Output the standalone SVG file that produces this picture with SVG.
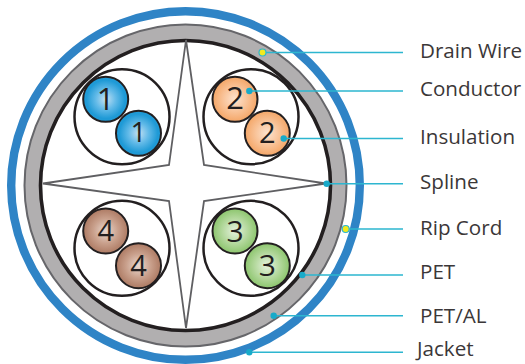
<svg xmlns="http://www.w3.org/2000/svg" width="525" height="364" viewBox="0 0 525 364">
<defs>
<radialGradient id="gb"><stop offset="0" stop-color="#c3e0f2"/><stop offset="0.45" stop-color="#62bae8"/><stop offset="0.85" stop-color="#1f9ad6"/><stop offset="1" stop-color="#1f9ad6"/></radialGradient>
<radialGradient id="go"><stop offset="0" stop-color="#fde3cf"/><stop offset="0.5" stop-color="#f9c59c"/><stop offset="1" stop-color="#f4a667"/></radialGradient>
<radialGradient id="gg"><stop offset="0" stop-color="#e6f2df"/><stop offset="0.55" stop-color="#b5d99f"/><stop offset="1" stop-color="#8cc56d"/></radialGradient>
<radialGradient id="gr"><stop offset="0" stop-color="#ead9d0"/><stop offset="0.55" stop-color="#c9a08c"/><stop offset="1" stop-color="#ad7a63"/></radialGradient>
</defs>
<style>
.lead{stroke:#2db6d0;stroke-width:1.5;fill:none}
.dot{fill:#18aac9}
.big{fill:#fff;stroke:#231f20;stroke-width:2.5}
.sm{stroke:#231f20;stroke-width:2}
.num{font-family:"Open Sans","Noto Sans",sans-serif;fill:#231f20;text-anchor:middle;font-weight:500}
.lab{font-family:"Open Sans","Noto Sans",sans-serif;font-size:20.6px;fill:#3b3738}
</style>
<g id="jacket"><circle cx="185.5" cy="185.5" r="174.3" fill="#fff" stroke="#2f84c6" stroke-width="8.4"/></g>
<g id="pet-al"><circle cx="185.5" cy="185.5" r="161" fill="#b1afb0" stroke="#66666a" stroke-width="2"/></g>
<g id="pet"><circle cx="185.5" cy="185.5" r="145" fill="#fff" stroke="#231f20" stroke-width="3.6"/></g>
<g id="spline"><path d="M186 40L204 165L326 183.5L204 201L186 328L169 201L43 183.5L169 165Z" fill="#fff" stroke="#5f5f62" stroke-width="1.8" stroke-linejoin="miter"/></g>
<g id="pair-1">
<circle class="big" cx="122" cy="116.7" r="47.5"/>
<circle class="sm" cx="105.7" cy="99.3" r="22.5" fill="url(#gb)"/>
<circle class="sm" cx="138.5" cy="133.3" r="22.5" fill="url(#gb)"/>
<text class="num" x="105.7" y="109.5" font-size="31">1</text>
<text class="num" x="138.5" y="142" font-size="28">1</text>
</g>
<g id="pair-2">
<circle class="big" cx="251" cy="116.7" r="47.5"/>
<circle class="sm" cx="235" cy="99.3" r="22.5" fill="url(#go)"/>
<circle class="sm" cx="267.3" cy="133.3" r="22.5" fill="url(#go)"/>
<text class="num" x="235" y="109" font-size="31">2</text>
<text class="num" x="267.3" y="143" font-size="29">2</text>
</g>
<g id="pair-3">
<circle class="big" cx="251" cy="248.3" r="47.5"/>
<circle class="sm" cx="235" cy="231" r="22.5" fill="url(#gg)"/>
<circle class="sm" cx="267.3" cy="265.7" r="22.5" fill="url(#gg)"/>
<text class="num" x="235" y="241.5" font-size="30">3</text>
<text class="num" x="267.3" y="275.5" font-size="30">3</text>
</g>
<g id="pair-4">
<circle class="big" cx="122" cy="248.3" r="47.5"/>
<circle class="sm" cx="105.7" cy="231" r="22.5" fill="url(#gr)"/>
<circle class="sm" cx="138.5" cy="265.7" r="22.5" fill="url(#gr)"/>
<text class="num" x="105.7" y="241" font-size="29">4</text>
<text class="num" x="138.5" y="276" font-size="29">4</text>
</g>
<g id="connectors">
<path class="lead" d="M262.5 52.5H403M249.3 91H403M283.7 138.5H403M326.7 183.7H403M345.7 229H403M302.3 275H403M273.7 315.7H403M249.3 352.3H403"/>
<circle class="dot" cx="249.3" cy="91" r="3.2"/>
<circle class="dot" cx="283.7" cy="138.5" r="3.2"/>
<circle class="dot" cx="326.7" cy="183.7" r="3.2"/>
<circle class="dot" cx="302.3" cy="275" r="3.2"/>
<circle class="dot" cx="273.7" cy="315.7" r="3.2"/>
<circle class="dot" cx="249.3" cy="352.3" r="3.2"/>
<circle cx="262.5" cy="52.5" r="3.5" fill="#f3ea1e" stroke="#2db6d0" stroke-width="1.2"/>
<circle cx="345.7" cy="229" r="3.5" fill="#f3ea1e" stroke="#2db6d0" stroke-width="1.2"/>
</g>
<g id="labels">
<text class="lab" x="420" y="57.7">Drain Wire</text>
<text class="lab" x="420" y="95.7">Conductor</text>
<text class="lab" x="420" y="144">Insulation</text>
<text class="lab" x="420" y="189.3">Spline</text>
<text class="lab" x="420" y="235">Rip Cord</text>
<text class="lab" x="420" y="279">PET</text>
<text class="lab" x="420" y="322.7">PET/AL</text>
<text class="lab" x="417" y="356">Jacket</text>
</g>
</svg>
